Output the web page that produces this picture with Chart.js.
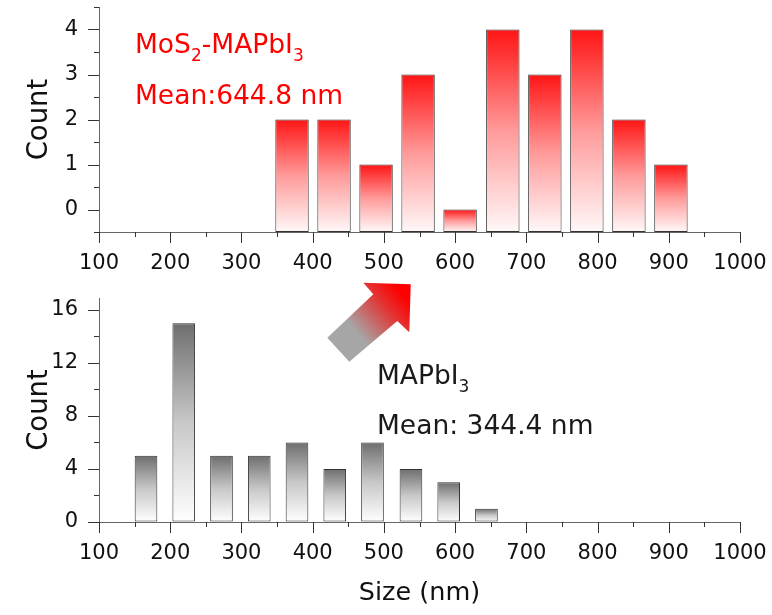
<!DOCTYPE html>
<html>
<head>
<meta charset="utf-8">
<script src="https://cdn.jsdelivr.net/npm/chart.js@4.4.1/dist/chart.umd.min.js"></script>
<style>
  html, body { margin: 0; padding: 0; background: #fff; }
  #wrap { position: relative; width: 772px; height: 615px; overflow: hidden; }
  canvas { position: absolute; left: 0; }
  #topChart { top: 0; }
  #bottomChart { top: 270px; }
  .note { position: absolute; font-family: "DejaVu Sans", sans-serif; font-size: 26.5px; line-height: 30px; white-space: nowrap; z-index: 2; }
  .note sub { font-size: 17px; vertical-align: -8px; line-height: 0; }
  .red { color: #ff0000; }
  .dark { color: #1a1a1a; }
</style>
</head>
<body>
<div id="wrap">
  <canvas id="topChart" width="772" height="280"></canvas>
  <canvas id="bottomChart" width="772" height="345"></canvas>
  <div class="note red" style="left:135px; top:29px;">MoS<sub>2</sub>-MAPbI<sub>3</sub></div>
  <div class="note red" style="left:135px; top:80px;">Mean:644.8 nm</div>
  <div class="note dark" style="left:377px; top:360px;">MAPbI<sub>3</sub></div>
  <div class="note dark" style="left:377px; top:410px;">Mean: 344.4 nm</div>
</div>
<script>
// size bins (bar centres, nm) and counts
const sizeMoS2 = [371, 430, 489, 548, 607, 667, 726, 785, 844, 903];
const countMoS2 = [2, 2, 1, 3, 0, 4, 3, 4, 2, 1];
const sizePlain = [166, 219, 272, 325, 378, 431, 484, 538, 591, 644];
const countPlain = [5, 15, 5, 5, 6, 4, 6, 4, 3, 1];

// axis ticks
const xTicks = [100, 200, 300, 400, 500, 600, 700, 800, 900, 1000];
const xMinor = [150, 250, 350, 450, 550, 650, 750, 850, 950];
const yTicksTop = [0, 1, 2, 3, 4];
const yMinorTop = [-0.5, 0.5, 1.5, 2.5, 3.5, 4.5];
const yTicksBottom = [0, 4, 8, 12, 16];
const yMinorBottom = [2, 6, 10, 14];

Chart.defaults.font.family = '"DejaVu Sans", sans-serif';
Chart.defaults.color = '#111';

// vertical gradient per bar, from its top down to its base
function barFill(stops) {
  return (c) => {
    const chart = c.chart;
    if (!chart.chartArea || c.type !== 'data') return stops[0][1];
    const y = chart.scales.y;
    const top = y.getPixelForValue(c.raw.y);
    const bottom = y.getPixelForValue(c.dataset.base ?? 0);
    const g = chart.ctx.createLinearGradient(0, top, 0, bottom);
    stops.forEach(([o, col]) => g.addColorStop(o, col));
    return g;
  };
}

// outward major/minor tick marks on both axes
const tickMarks = {
  id: 'tickMarks',
  afterDraw(chart, args, opts) {
    const {ctx, chartArea: a, scales: {x, y}} = chart;
    ctx.save();
    ctx.strokeStyle = '#333';
    ctx.lineWidth = 1;
    ctx.beginPath();
    xTicks.map(v => [v, 11]).concat(xMinor.map(v => [v, 5])).forEach(([v, len]) => {
      const px = Math.round(x.getPixelForValue(v)) + 0.5;
      ctx.moveTo(px, a.bottom);
      ctx.lineTo(px, a.bottom + len);
    });
    opts.major.map(v => [v, 11]).concat(opts.minor.map(v => [v, 5])).forEach(([v, len]) => {
      const py = Math.round(y.getPixelForValue(v)) + 0.5;
      ctx.moveTo(a.left, py);
      ctx.lineTo(a.left - len, py);
    });
    ctx.stroke();
    ctx.restore();
  }
};

// thick gray-to-red arrow between the two panels
const arrow = {
  id: 'arrow',
  afterDraw(chart) {
    const ctx = chart.ctx;
    const oy = 270;
    const pts = [[327.3, 337.7], [373.3, 294.3], [363.3, 282.7], [410.7, 284.3],
                 [409.3, 332.3], [397.3, 321], [349.3, 361.7]];
    const g = ctx.createLinearGradient(338, 350 - oy, 402, 294 - oy);
    g.addColorStop(0, '#a6a6a6');
    g.addColorStop(0.3, '#a6a6a6');
    g.addColorStop(0.75, '#e23434');
    g.addColorStop(1, '#ff0000');
    ctx.save();
    ctx.beginPath();
    pts.forEach(([px, py], i) => i ? ctx.lineTo(px, py - oy) : ctx.moveTo(px, py - oy));
    ctx.closePath();
    ctx.fillStyle = g;
    ctx.fill();
    ctx.restore();
  }
};

function axisX(withTitle, height) {
  return {
    type: 'linear',
    min: 100,
    max: 1000,
    offset: false,
    afterBuildTicks: s => { s.ticks = xTicks.map(v => ({value: v})); },
    afterFit: s => { s.height = height; s.paddingLeft = 0; s.paddingRight = 0; },
    ticks: { font: {size: 21}, padding: 8, maxRotation: 0, autoSkip: false, color: '#111',
             callback: v => String(v) },
    grid: { offset: false, drawOnChartArea: false, color: 'transparent', tickLength: 11 },
    border: { color: '#666', width: 1 },
    title: withTitle
      ? { display: true, text: 'Size (nm)', font: {size: 25.5}, color: '#111', padding: {top: 0, bottom: 6} }
      : { display: false }
  };
}

function axisY(min, max, major) {
  return {
    min: min,
    max: max,
    afterBuildTicks: s => { s.ticks = major.map(v => ({value: v})); },
    afterFit: s => { s.width = 99; s.paddingTop = 0; s.paddingBottom = 0; },
    ticks: { font: {size: 21}, padding: 10, color: '#111', callback: v => String(v) },
    grid: { drawOnChartArea: false, color: 'transparent', tickLength: 11 },
    border: { color: '#666', width: 1 },
    title: { display: true, text: 'Count', font: {size: 27.5}, color: '#111', padding: {top: 23, bottom: 0} }
  };
}

new Chart(document.getElementById('topChart'), {
  type: 'bar',
  data: {
    datasets: [{
      data: sizeMoS2.map((x, i) => ({x: x, y: countMoS2[i]})),
      base: -0.5,
      backgroundColor: barFill([[0, '#ff1414'], [0.5, '#ff9a9a'], [1, '#fff8f8']]),
      borderColor: '#333',
      borderWidth: 1,
      borderSkipped: false,
      barPercentage: 0.795,
      categoryPercentage: 1
    }]
  },
  options: {
    responsive: false,
    devicePixelRatio: 1,
    animation: false,
    layout: { padding: {top: 7, right: 32, left: 0, bottom: 0} },
    scales: {
      x: axisX(false, 48),
      y: axisY(-0.5, 4.5, yTicksTop)
    },
    plugins: {
      legend: {display: false},
      tooltip: {enabled: false},
      tickMarks: { major: yTicksTop, minor: yMinorTop }
    }
  },
  plugins: [tickMarks]
});

new Chart(document.getElementById('bottomChart'), {
  type: 'bar',
  data: {
    datasets: [{
      data: sizePlain.map((x, i) => ({x: x, y: countPlain[i]})),
      backgroundColor: barFill([[0, '#6e6e6e'], [0.5, '#c8c8c8'], [1, '#ffffff']]),
      borderColor: '#333',
      borderWidth: 1,
      borderSkipped: false,
      barPercentage: 0.6,
      categoryPercentage: 1
    }]
  },
  options: {
    responsive: false,
    devicePixelRatio: 1,
    animation: false,
    layout: { padding: {top: 28, right: 32, left: 0, bottom: 0} },
    scales: {
      x: axisX(true, 93),
      y: axisY(0, 16.9, yTicksBottom)
    },
    plugins: {
      legend: {display: false},
      tooltip: {enabled: false},
      tickMarks: { major: yTicksBottom, minor: yMinorBottom }
    }
  },
  plugins: [tickMarks, arrow]
});
</script>
</body>
</html>
